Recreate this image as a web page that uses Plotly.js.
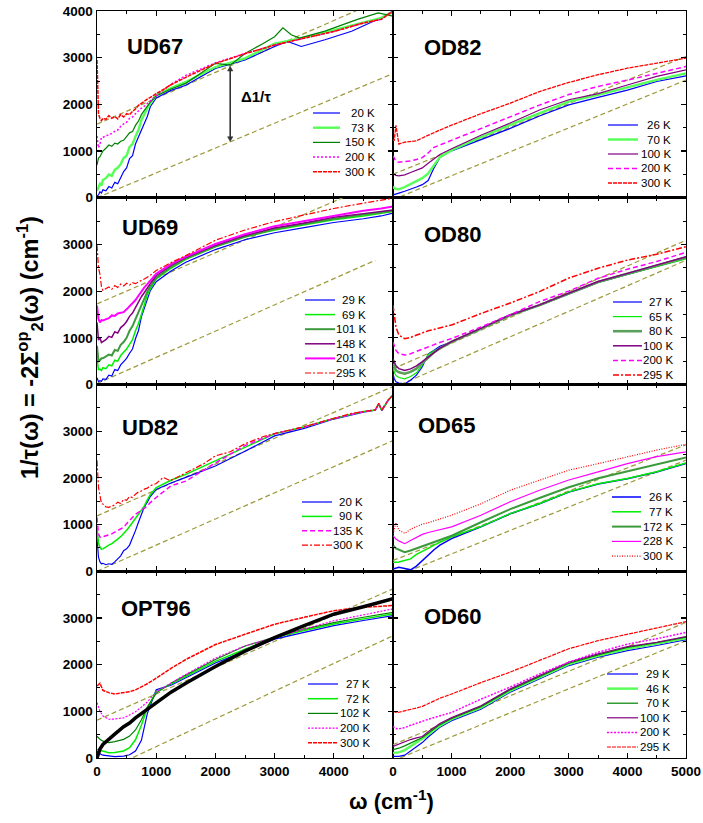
<!DOCTYPE html>
<html><head><meta charset="utf-8">
<script src="https://cdn.plot.ly/plotly-3.0.1.min.js"></script>
<style>html,body{margin:0;padding:0;background:#fff}#chart{width:703px;height:823px}</style>
</head><body><div id="chart"></div>
<script>
// ================= DATA =================
const GL = [0,50,100,200,300,450,550,650,750,850,1000,1250,1500,2000,2500,3000,3500,4000,4500,4800,5000];
const GLF = [0,25,50,75,100,150,200,250,300,350,400,450,500,550,600,650,700,750,800,850,900,1000,1250,1500,2000,2500,3000,3500,4000,4500,4800,5000];
const GR = [0,20,50,100,200,300,400,500,600,700,800,1000,1500,2000,2500,3000,3500,4000,4500,5000];
const GUIDE_X = [0, 5000];

// UD67
const UD67_labels = ['20 K','73 K','150 K','200 K','300 K'];
const UD67_20K_x = [0,25,50,75,100,150,200,250,300,350,400,450,500,550,600,650,700,750,800,850,900,1000,1250,1500,2000,2500,3000,3220,3450,3850,4300,4800,5000];
const UD67_20K   = [40,60,130,100,170,150,240,210,330,300,430,560,640,840,900,1150,1300,1450,1600,1740,1950,2140,2300,2410,2770,2950,3240,3350,3240,3385,3565,3855,4000];
const UD67_73K   = [150,250,300,260,380,420,500,470,600,640,720,850,900,1090,1150,1315,1450,1660,1800,1920,2020,2200,2350,2480,2800,2985,3300,3430,3590,3745,3850,3980];
const UD67_150K_x = [0,25,50,75,100,150,200,250,300,350,400,450,500,550,600,650,700,750,800,850,900,1000,1250,1500,2000,2250,2500,2800,3000,3140,3280,3420,3850,4400,4750,5000];
const UD67_150K   = [700,850,880,950,1000,1060,1130,1100,1170,1150,1210,1230,1300,1390,1420,1550,1640,1780,1870,1960,2050,2180,2330,2450,2880,2840,3090,3300,3450,3640,3490,3420,3570,3820,3960,3890];
const UD67_200K  = [1320,1070,1150,1290,1290,1330,1340,1390,1420,1450,1530,1580,1620,1700,1730,1800,1870,1920,1960,2020,2080,2190,2430,2620,2890,3090,3270,3420,3560,3740,3820,3990];
const UD67_300K  = [2950,1800,1700,1650,1700,1680,1760,1700,1740,1690,1780,1730,1800,1780,1850,1900,1980,2030,2060,2110,2150,2225,2420,2580,2875,3085,3270,3420,3560,3745,3820,4000];
const UD67_g1 = [1576, 4351];
const UD67_g2 = [0, 2660];

// OD82
const OD82_labels = ['26 K','70 K','100 K','200 K','300 K'];
const OD82_26K  = [60,70,80,100,140,180,230,280,370,640,860,1005,1240,1485,1750,1990,2150,2305,2490,2610];
const OD82_70K  = [240,210,190,180,230,290,350,420,520,700,870,1020,1300,1560,1805,2060,2205,2365,2525,2665];
const OD82_100K = [520,505,480,470,490,540,590,640,740,840,925,1050,1340,1600,1880,2100,2230,2415,2600,2740];
const OD82_200K = [900,860,780,760,770,790,820,860,960,1080,1130,1230,1475,1740,1985,2210,2385,2520,2670,2810];
const OD82_300K = [1250,1220,1550,1150,1190,1200,1220,1280,1340,1400,1450,1555,1800,2025,2275,2470,2635,2775,2885,2990];
const OD82_g1 = [505, 3025];
const OD82_g2 = [-40, 2520];

// UD69
const UD69_labels = ['29 K','69 K','101 K','148 K','201 K','295 K'];
const UD69_29K  = [145,60,80,70,120,110,200,180,320,300,420,480,560,670,760,980,1150,1450,1650,1850,2010,2200,2430,2620,2890,3100,3250,3360,3470,3550,3610,3670];
const UD69_69K  = [540,320,330,300,360,340,420,400,520,500,620,690,760,860,960,1150,1300,1500,1700,1920,2050,2260,2490,2680,2950,3160,3310,3420,3530,3610,3660,3705];
const UD69_101K = [830,500,520,560,560,600,640,620,740,720,850,910,1000,1150,1250,1400,1550,1730,1860,1990,2100,2290,2520,2700,2960,3170,3330,3440,3550,3640,3680,3720];
const UD69_148K = [1330,950,1000,900,920,960,1030,1010,1130,1100,1220,1270,1350,1460,1530,1650,1750,1880,1970,2070,2160,2330,2550,2720,2980,3190,3350,3460,3580,3660,3700,3740];
const UD69_201K = [1690,1400,1330,1380,1370,1400,1420,1480,1470,1520,1530,1550,1610,1680,1730,1810,1900,2000,2080,2150,2220,2370,2580,2740,3010,3220,3390,3500,3620,3720,3770,3815];
const UD69_295K = [2985,2500,2360,2100,2015,2060,2090,2040,2120,2080,2150,2110,2170,2130,2180,2160,2200,2230,2260,2300,2340,2440,2610,2760,3090,3310,3490,3630,3770,3885,3940,3990];
const UD69_g1 = [1727, 4467];
const UD69_g2x = [0, 4700];
const UD69_g2 = [20, 2660];

// OD80
const OD80_labels = ['27 K','65 K','80 K','100 K','200 K','295 K'];
const OD80_27K  = [230,130,60,30,15,90,200,380,650,740,820,915,1190,1480,1695,1945,2185,2360,2535,2700];
const OD80_65K  = [335,260,190,150,120,170,250,420,640,730,770,910,1190,1480,1695,1945,2185,2360,2530,2690];
const OD80_80K  = [445,380,300,260,230,270,340,460,580,690,775,915,1195,1485,1700,1950,2195,2370,2545,2720];
const OD80_100K = [550,480,400,340,300,335,400,490,590,695,780,920,1200,1490,1705,1960,2205,2380,2560,2735];
const OD80_200K = [910,820,730,660,630,660,710,760,810,860,900,985,1230,1495,1775,2000,2275,2470,2635,2830];
const OD80_295K = [1700,1500,1230,1060,980,1010,1060,1110,1150,1180,1210,1275,1520,1745,1990,2280,2490,2665,2790,2950];
const OD80_g1 = [335, 3090];
const OD80_g2 = [-70, 2660];

// UD82
const UD82_labels = ['20 K','90 K','135 K','300 K'];
const GLF82 = [0,25,50,75,100,150,200,250,300,350,400,450,500,550,600,650,700,750,800,850,900,1000,1250,1500,2000,2500,3000,3500,4000,4500,4700,4760,4810,4920,5000];
const UD82_20K  = [720,300,200,160,170,140,160,150,200,260,330,440,480,560,700,870,1050,1240,1380,1480,1600,1750,1890,2010,2255,2570,2900,3060,3260,3410,3450,3580,3440,3660,3770];
const UD82_90K  = [935,600,520,470,480,530,560,590,650,690,740,800,880,960,1040,1130,1220,1310,1400,1530,1640,1790,1950,2075,2360,2650,2945,3090,3270,3420,3455,3590,3450,3670,3775];
const UD82_135K = [1150,800,730,720,740,760,780,800,840,870,900,940,1020,1090,1150,1220,1260,1300,1350,1400,1470,1580,1830,1930,2320,2690,2945,3090,3270,3420,3455,3590,3450,3670,3775];
const UD82_300K_x = [0,25,50,75,100,150,200,250,300,350,400,450,500,550,600,650,700,750,800,850,900,1000,1120,1240,1500,1800,2000,2250,2500,2800,3000,3500,4000,4300,4500,4700,4760,4810,4920,5000];
const UD82_300K   = [2375,1800,1620,1450,1440,1380,1370,1400,1420,1480,1450,1540,1520,1600,1580,1650,1700,1720,1760,1780,1830,1880,2010,1940,2110,2300,2470,2560,2730,2880,2950,3095,3275,3380,3420,3455,3600,3450,3670,3775];
const UD82_g1 = [1187, 3957];
const UD82_g2 = [0, 2800];

// OD65
const OD65_labels = ['26 K','77 K','172 K','228 K','300 K'];
const OD65_26K  = [50,60,75,85,60,30,110,230,350,460,560,700,950,1230,1445,1695,1870,1980,2125,2310];
const OD65_77K  = [195,200,195,200,230,265,360,420,490,560,620,740,955,1235,1450,1700,1875,1985,2130,2320];
const OD65_172K = [515,530,490,460,410,445,490,540,580,620,660,760,1050,1330,1570,1800,1990,2140,2290,2435];
const OD65_228K = [765,740,690,650,590,660,730,790,830,860,890,950,1200,1490,1735,1955,2130,2305,2455,2555];
const OD65_300K = [800,900,1040,880,810,900,960,1010,1040,1080,1120,1200,1445,1735,1950,2165,2305,2450,2595,2720];
const OD65_g1 = [230, 2710];
const OD65_g2 = [-130, 2380];

// OPT96
const OPT96_labels = ['27 K','72 K','102 K','200 K','300 K'];
const OPT96_27K  = [145,90,60,40,30,40,70,150,380,950,1460,1560,1715,2035,2290,2545,2690,2835,2945,3000,3050];
const OPT96_72K  = [180,160,145,115,120,150,220,390,700,1070,1420,1580,1745,2070,2330,2580,2730,2870,2980,3040,3085];
const OPT96_102K = [465,400,360,330,350,400,470,600,820,1090,1390,1600,1775,2110,2400,2590,2760,2900,3015,3080,3120];
const OPT96_200K = [1185,1000,900,830,835,860,920,990,1090,1200,1420,1610,1790,2140,2400,2580,2765,2940,3065,3140,3195];
const OPT96_300K = [1545,1600,1450,1400,1370,1400,1420,1460,1520,1590,1710,1920,2110,2430,2650,2865,3015,3155,3230,3255,3265];
const OPT96_fit  = [0,190,290,410,510,670,750,860,950,1050,1180,1410,1600,1960,2290,2580,2835,3080,3240,3340,3410];
const OPT96_g1 = [810, 3625];
const OPT96_g2 = [-350, 2620];

// OD60
const OD60_labels = ['29 K','46 K','70 K','100 K','200 K','295 K'];
const OD60_29K  = [35,35,35,35,60,145,240,330,450,560,660,800,1045,1410,1690,1980,2160,2300,2410,2535];
const OD60_46K  = [110,110,110,120,170,250,330,410,500,600,690,830,1080,1440,1725,2010,2190,2340,2450,2565];
const OD60_70K  = [180,185,190,210,260,325,390,440,530,630,715,845,1100,1460,1745,2030,2210,2370,2470,2590];
const OD60_100K = [250,260,280,300,350,395,430,460,560,660,740,865,1120,1480,1765,2050,2230,2385,2480,2600];
const OD60_200K = [680,660,630,625,650,700,750,785,830,870,900,975,1260,1520,1800,2055,2265,2440,2555,2690];
const OD60_295K = [1005,990,975,980,1005,1040,1070,1105,1160,1225,1280,1370,1615,1840,2085,2340,2515,2655,2785,2920];
const OD60_g1 = [285, 2905];
const OD60_g2 = [-60, 2510];

const X_TICKS = [0,1000,2000,3000,4000,5000];
const Y_TICKS = [0,1000,2000,3000,4000];
const ARROW_X = 2250;

// ================= STYLE / LAYOUT =================
const FONT = 'Liberation Sans, Arial, Helvetica, sans-serif';
const BLUE='#0000ff', LG='#00ee00', PG='#55ff55', DG='#008000', DG2='#3c9a3c', PU='#800080', MA='#ff00ff', RD='#ff0000', OLIVE='#9c9a3a';
const S = (c,w,d)=>({color:c,width:w,dash:d||'solid'});

const panels = [
 {name:'UD67', row:0, col:0, labels:UD67_labels, pos:[155,46],
  leg:{x0:313,x1:340,tx:377,y0:113,dy:14.7},
  series:[[UD67_20K_x,UD67_20K,S(BLUE,1.2)],[GLF,UD67_73K,S(PG,2.4)],[UD67_150K_x,UD67_150K,S(DG,1.2)],
          [GLF,UD67_200K,S(MA,1.5,'2px,2px')],[GLF,UD67_300K,S(RD,1.5,'4px,1px')]],
  guides:[[GUIDE_X,UD67_g1],[GUIDE_X,UD67_g2]]},
 {name:'OD82', row:0, col:1, labels:OD82_labels, pos:[452,48],
  leg:{x0:608,x1:638,tx:673,y0:125,dy:14.5},
  series:[[GR,OD82_26K,S(BLUE,1.2)],[GR,OD82_70K,S(PG,2.4)],[GR,OD82_100K,S(PU,1.2)],
          [GR,OD82_200K,S(MA,1.5,'5px,3px')],[GR,OD82_300K,S(RD,1.3,'4px,1px')]],
  guides:[[GUIDE_X,OD82_g1],[GUIDE_X,OD82_g2]]},
 {name:'UD69', row:1, col:0, labels:UD69_labels, pos:[150,228],
  leg:{x0:305,x1:335,tx:368,y0:300,dy:14.6},
  series:[[GLF,UD69_29K,S(BLUE,1.2)],[GLF,UD69_69K,S(LG,1.5)],[GLF,UD69_101K,S(DG2,2)],
          [GLF,UD69_148K,S(PU,1.5)],[GLF,UD69_201K,S(MA,2)],[GLF,UD69_295K,S(RD,1.2,'6px,2px,2px,2px')]],
  guides:[[GUIDE_X,UD69_g1],[UD69_g2x,UD69_g2]]},
 {name:'OD80', row:1, col:1, labels:OD80_labels, pos:[452,234],
  leg:{x0:613,x1:642,tx:675,y0:302,dy:14.6},
  series:[[GR,OD80_27K,S(BLUE,1.2)],[GR,OD80_65K,S(LG,1.2)],[GR,OD80_80K,S('#5aa05a',2.6)],
          [GR,OD80_100K,S(PU,1.5)],[GR,OD80_200K,S(MA,1.5,'5px,3px')],[GR,OD80_295K,S(RD,1.5,'6px,2px,2px,2px')]],
  guides:[[GUIDE_X,OD80_g1],[GUIDE_X,OD80_g2]]},
 {name:'UD82', row:2, col:0, labels:UD82_labels, pos:[150,427],
  leg:{x0:302,x1:332,tx:365,y0:502,dy:14.4},
  series:[[GLF82,UD82_20K,S(BLUE,1.2)],[GLF82,UD82_90K,S(LG,1.5)],[GLF82,UD82_135K,S(MA,1.5,'5px,3px')],
          [UD82_300K_x,UD82_300K,S(RD,1.2,'6px,2px,2px,2px')]],
  guides:[[GUIDE_X,UD82_g1],[GUIDE_X,UD82_g2]]},
 {name:'OD65', row:2, col:1, labels:OD65_labels, pos:[446,425],
  leg:{x0:612,x1:641,tx:675,y0:497,dy:14.8},
  series:[[GR,OD65_26K,S(BLUE,1.5)],[GR,OD65_77K,S(LG,1.5)],[GR,OD65_172K,S(DG2,2)],
          [GR,OD65_228K,S(MA,1.2)],[GR,OD65_300K,S(RD,1.2,'1px,1.5px')]],
  guides:[[GUIDE_X,OD65_g1],[GUIDE_X,OD65_g2]]},
 {name:'OPT96', row:3, col:0, labels:OPT96_labels, pos:[156,608],
  leg:{x0:308,x1:338,tx:372,y0:684,dy:14.7},
  series:[[GL,OPT96_27K,S(BLUE,1.2)],[GL,OPT96_72K,S(LG,1.5)],[GL,OPT96_102K,S(DG,1.2)],
          [GL,OPT96_200K,S(MA,1.2,'2px,1.5px')],[GL,OPT96_300K,S(RD,1.5,'4px,1px')]],
  extra:[[GL,OPT96_fit,S('#000000',3.5)]],
  guides:[[GUIDE_X,OPT96_g1],[GUIDE_X,OPT96_g2]]},
 {name:'OD60', row:3, col:1, labels:OD60_labels, pos:[452,616],
  leg:{x0:607,x1:638,tx:672,y0:674,dy:14.6},
  series:[[GR,OD60_29K,S(BLUE,1.2)],[GR,OD60_46K,S(PG,2.4)],[GR,OD60_70K,S(DG,1.2)],
          [GR,OD60_100K,S(PU,1.2)],[GR,OD60_200K,S(MA,1.5,'2px,1.5px')],[GR,OD60_295K,S(RD,1.2,'4px,1px')]],
  guides:[[GUIDE_X,OD60_g1],[GUIDE_X,OD60_g2]]}
];

const W=703, H=823, ML=97, MR=17, MT=11, MB=65;
const PW=W-ML-MR, PH=H-MT-MB;
const px2x = p => (p-ML)/PW;
const px2y = p => (H-MB-p)/PH;
const COLSPLIT = (393-ML)/PW;

const traces=[], shapes=[], annotations=[];
const layout = {width:W, height:H, margin:{l:ML,r:MR,t:MT,b:MB}, paper_bgcolor:'#fff', plot_bgcolor:'#fff',
  showlegend:false, font:{family:FONT,color:'#000'}};

function interp(xs, ys, x){
  for(let i=0;i<xs.length-1;i++){ if(x>=xs[i] && x<=xs[i+1]) return ys[i]+(ys[i+1]-ys[i])*(x-xs[i])/(xs[i+1]-xs[i]); }
  return NaN;
}

panels.forEach((p,k)=>{
  const n = k===0 ? '' : String(k+1);
  const xa='x'+n, ya='y'+n;
  const xdom = p.col===0 ? [0,COLSPLIT] : [COLSPLIT,1];
  const ydom = [1-(p.row+1)/4, 1-p.row/4];
  const bottom = p.row===3, left = p.col===0;
  const xt = bottom ? (p.col===0 ? X_TICKS.slice(0,5) : X_TICKS) : X_TICKS;
  const yt = left ? (p.row===0 ? Y_TICKS : Y_TICKS.slice(0,4)) : Y_TICKS;
  const common = {showline:true, linecolor:'#000', linewidth:1.4, mirror:'allticks', ticks:'inside', ticklen:5,
    tickwidth:1.2, tickcolor:'#000', showgrid:false, zeroline:false, fixedrange:true,
    tickfont:{family:FONT,size:13.5,color:'#000',weight:'bold'},
    minor:{ticks:'inside', ticklen:3, tickwidth:1, tickcolor:'#000', tickmode:'linear', tick0:0, dtick:500, showgrid:false}};
  layout['xaxis'+n] = Object.assign({}, common, {domain:xdom, anchor:ya, range:[0,5000], tickmode:'array',
    tickvals:xt, ticktext:xt.map(String), showticklabels:bottom});
  layout['yaxis'+n] = Object.assign({}, common, {domain:ydom, anchor:xa, range:[0,4000], tickmode:'array',
    tickvals:yt, ticktext:yt.map(String), showticklabels:left});

  p.guides.forEach(g=>traces.push({x:g[0], y:g[1], xaxis:xa, yaxis:ya, mode:'lines', hoverinfo:'skip',
    line:{color:OLIVE, width:1.2, dash:'5px,3px'}}));
  p.series.forEach((s,i)=>traces.push({x:s[0], y:s[1], name:p.name+' '+p.labels[i], xaxis:xa, yaxis:ya, mode:'lines',
    line:s[2]}));
  (p.extra||[]).forEach(s=>traces.push({x:s[0], y:s[1], name:p.name+' fit', xaxis:xa, yaxis:ya, mode:'lines', line:s[2]}));

  annotations.push({xref:'paper', yref:'paper', x:px2x(p.pos[0]), y:px2y(p.pos[1]), text:p.name,
    showarrow:false, xanchor:'center', yanchor:'middle', font:{family:FONT,size:22,color:'#000',weight:'bold'}});
  p.labels.forEach((lab,i)=>{
    const yy = p.leg.y0 + i*p.leg.dy;
    const st = p.series[i][2];
    shapes.push({type:'line', xref:'paper', yref:'paper', x0:px2x(p.leg.x0), x1:px2x(p.leg.x1), y0:px2y(yy), y1:px2y(yy),
      line:{color:st.color, width:st.width, dash:st.dash}});
    annotations.push({xref:'paper', yref:'paper', x:px2x(p.leg.tx), y:px2y(yy), text:lab, showarrow:false,
      xanchor:'right', yanchor:'middle', font:{family:FONT,size:11.5,color:'#000'}});
  });
});

// delta arrow in UD67 (drawn as an arrow between the two guide lines)
const aTop = interp(GUIDE_X, UD67_g1, ARROW_X), aBot = interp(GUIDE_X, UD67_g2, ARROW_X);
shapes.push({type:'line', xref:'x', yref:'y', x0:ARROW_X, x1:ARROW_X, y0:aBot+70, y1:aTop-70, line:{color:'#333',width:1.6}});
shapes.push({type:'path', xref:'x', yref:'y', fillcolor:'#333', line:{color:'#333',width:0.5},
  path:`M ${ARROW_X-45},${aTop-110} L ${ARROW_X},${aTop-10} L ${ARROW_X+45},${aTop-110} Z`});
shapes.push({type:'path', xref:'x', yref:'y', fillcolor:'#333', line:{color:'#333',width:0.5},
  path:`M ${ARROW_X-45},${aBot+110} L ${ARROW_X},${aBot+10} L ${ARROW_X+45},${aBot+110} Z`});
annotations.push({xref:'x', yref:'y', x:2680, y:2170, text:'Δ1/τ', showarrow:false, xanchor:'center', yanchor:'middle',
  font:{family:FONT,size:15,color:'#000',weight:'bold'}});

// axis titles
annotations.push({xref:'paper', yref:'paper', x:px2x(30), y:px2y(348), textangle:-90, showarrow:false,
  xanchor:'center', yanchor:'middle',
  text:'1/τ(ω) = -2Σ<sup>op</sup><sub>2</sub>(ω) (cm<sup>-1</sup>)', font:{family:FONT,size:23.5,color:'#000',weight:'bold'}});
annotations.push({xref:'paper', yref:'paper', x:px2x(391), y:px2y(800), showarrow:false, xanchor:'center', yanchor:'middle',
  text:'ω (cm<sup>-1</sup>)', font:{family:FONT,size:22,color:'#000',weight:'bold'}});

layout.shapes = shapes;
layout.annotations = annotations;
Plotly.newPlot('chart', traces, layout, {displayModeBar:false, staticPlot:true});
</script>
</body></html>
